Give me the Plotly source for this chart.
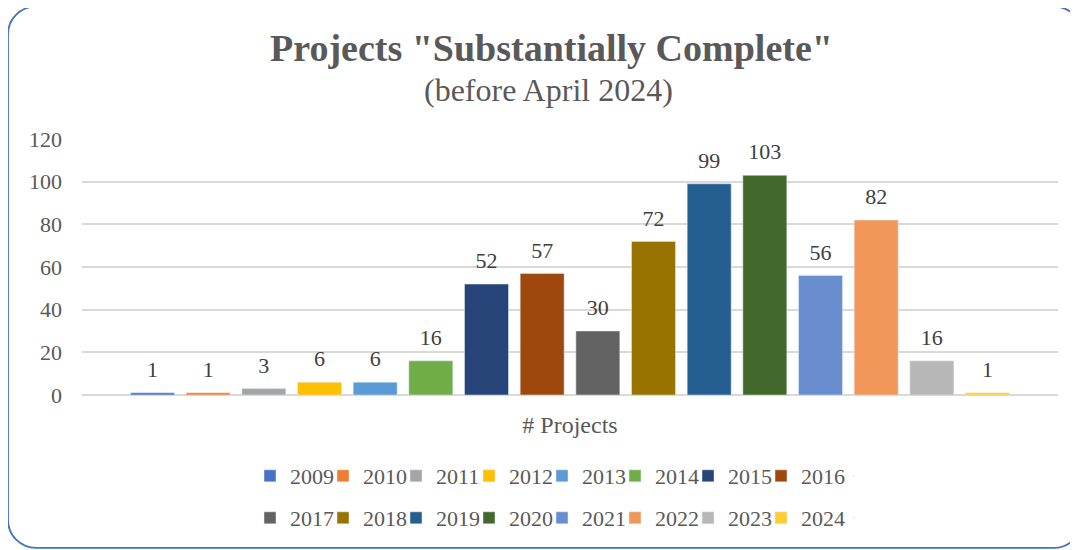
import plotly.graph_objects as go

years = ["2009", "2010", "2011", "2012", "2013", "2014", "2015", "2016",
         "2017", "2018", "2019", "2020", "2021", "2022", "2023", "2024"]
projects = [1, 1, 3, 6, 6, 16, 52, 57, 30, 72, 99, 103, 56, 82, 16, 1]
colors = ["#4472C4", "#ED7D31", "#A5A5A5", "#FFC000", "#5B9BD5", "#70AD47",
          "#264478", "#9E480E", "#636363", "#997300", "#255E91", "#43682B",
          "#698ED0", "#F1975A", "#B7B7B7", "#FFCD33"]
category = ["# Projects"]
y_ticks = [0, 20, 40, 60, 80, 100, 120]

FONT = "Liberation Serif"
OFF = 8                      # page body margin
W, H = 1078 - OFF, 550 - OFF
# plot area in reference px
RL, RR, RT, RB = 82, 1058, 139, 396
L, R, T, B = RL - OFF, RR - OFF, RT - OFF, RB - OFF

GAP = 0.0874

fig = go.Figure()
for i, (yr, v, c) in enumerate(zip(years, projects, colors)):
    fig.add_trace(go.Bar(
        x=category, y=[v], name=yr, marker_color=c,
        offsetgroup=str(i),
        legend="legend" if i < 8 else "legend2",
        hoverinfo="name+y",
    ))
# data labels (grouped scatter aligned with the bars)
for i, (yr, v) in enumerate(zip(years, projects)):
    fig.add_trace(go.Scatter(
        x=category, y=[v], mode="markers+text", text=[str(v)],
        textposition="top center", offsetgroup=str(i),
        marker=dict(size=15, opacity=0, color="white"),
        textfont=dict(family=FONT, size=22, color="#404040"),
        cliponaxis=False, showlegend=False, hoverinfo="skip",
    ))
# legend spacers (keep last legend entry text from being clipped)
for lg in ["legend", "legend2"]:
    fig.add_trace(go.Scatter(
        x=[None], y=[None], mode="markers", name=" ", offsetgroup="0",
        marker=dict(size=1, opacity=0), legend=lg, hoverinfo="skip",
    ))


def px2x(px):
    return (px - RL) / (RR - RL)


def px2y(py):
    return (RB - py) / (RB - RT)


# rounded border (reference px)
x0, x1, y0, y1, r = 8, 1082, 6, 549.5, 28


def P(px, py):
    return f"{px2x(px):.5f},{px2y(py):.5f}"


k = 0.45
path = (f"M {P(x0 + r, y0)} L {P(x1 - r, y0)} "
        f"C {P(x1 - r*k, y0)} {P(x1, y0 + r*k)} {P(x1, y0 + r)} "
        f"L {P(x1, y1 - r)} "
        f"C {P(x1, y1 - r*k)} {P(x1 - r*k, y1)} {P(x1 - r, y1)} "
        f"L {P(x0 + r, y1)} "
        f"C {P(x0 + r*k, y1)} {P(x0, y1 - r*k)} {P(x0, y1 - r)} "
        f"L {P(x0, y0 + r)} "
        f"C {P(x0, y0 + r*k)} {P(x0 + r*k, y0)} {P(x0 + r, y0)} Z")

fig.add_shape(type="path", path=path, xref="paper", yref="paper",
              line=dict(color="#4472C4", width=1.8), layer="below")

fig.add_annotation(text='<b>Projects "Substantially Complete"</b>',
                   xref="paper", yref="paper", x=px2x(551), y=px2y(48),
                   xanchor="center", yanchor="middle", showarrow=False,
                   font=dict(family=FONT, size=38, color="#595959"))
fig.add_annotation(text="(before April 2024)",
                   xref="paper", yref="paper", x=px2x(548), y=px2y(90),
                   xanchor="center", yanchor="middle", showarrow=False,
                   font=dict(family=FONT, size=32, color="#595959"))

legend_common = dict(orientation="h", xanchor="left", yanchor="middle",
                     font=dict(family=FONT, size=22, color="#595959"),
                     entrywidth=28, entrywidthmode="pixels",
                     bgcolor="rgba(0,0,0,0)", itemclick=False,
                     itemdoubleclick=False, tracegroupgap=0)

fig.update_layout(
    width=W, height=H,
    margin=dict(l=L, r=W - R, t=T, b=H - B, pad=0),
    paper_bgcolor="white", plot_bgcolor="white",
    barmode="group", bargap=GAP, bargroupgap=0.21,
    scattermode="group", scattergap=GAP,
    showlegend=True,
    legend=dict(x=px2x(250), y=px2y(476), **legend_common),
    legend2=dict(x=px2x(250), y=px2y(518), **legend_common),
    xaxis=dict(showgrid=False, showline=False, zeroline=False,
               tickfont=dict(family=FONT, size=24, color="#595959"),
               ticklabelstandoff=13, fixedrange=True),
    yaxis=dict(range=[0, 120], tickvals=y_ticks, showgrid=True,
               gridcolor="#D9D9D9", gridwidth=1.5, zeroline=True,
               zerolinecolor="#D9D9D9", zerolinewidth=1.5, showline=False,
               tickfont=dict(family=FONT, size=22, color="#595959"),
               ticklabelstandoff=19, fixedrange=True),
)

fig.write_html("out.html")
